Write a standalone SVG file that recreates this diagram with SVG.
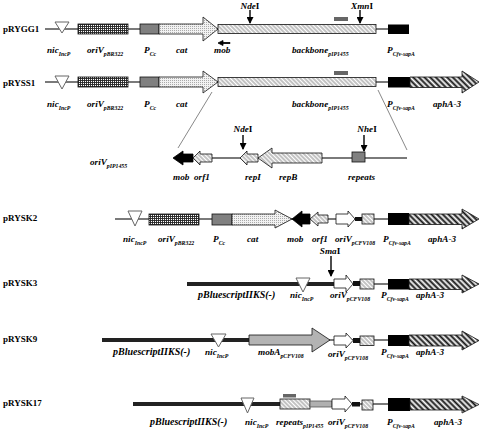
<svg xmlns="http://www.w3.org/2000/svg" width="480" height="431" viewBox="0 0 480 431">
<defs>
<style>
.t{font-family:"Liberation Serif","Times New Roman",serif;font-weight:bold;font-style:italic;font-size:9.2px;fill:#000}
.b{font-size:10px}
.n{font-family:"Liberation Serif","Times New Roman",serif;font-weight:bold;font-size:9px;fill:#000}
.s{font-size:5.8px}
.r{font-style:normal}
.ln{stroke:#7a7a7a;stroke-width:2;fill:none}
.bk{stroke:#222;stroke-width:4;fill:none}
.ol{stroke:#111;stroke-width:0.8}
.tri{fill:#fff;stroke:#666;stroke-width:1}
.site{stroke:#000;stroke-width:1.4;marker-end:url(#ah)}
.exp{stroke:#555;stroke-width:0.7}
.gbar{fill:#666}
</style>
<marker id="ah" markerUnits="userSpaceOnUse" markerWidth="7" markerHeight="7" refX="6" refY="3.5" orient="auto"><path d="M0,0 L7,3.5 L0,7 z" fill="#000"/></marker>
<pattern id="grid" width="2" height="2" patternUnits="userSpaceOnUse"><rect width="2" height="2" fill="#fff"/><path d="M0 0.5H2M0.5 0V2" stroke="#222" stroke-width="0.9"/></pattern>
<pattern id="dots" width="2" height="2" patternUnits="userSpaceOnUse"><rect width="2" height="2" fill="#f2f2f2"/><rect width="1" height="1" fill="#aaa"/></pattern>
<pattern id="hatch" width="3" height="3" patternUnits="userSpaceOnUse" patternTransform="rotate(-45)"><rect width="3" height="3" fill="#fff"/><path d="M1 0V3" stroke="#777" stroke-width="0.9"/></pattern>
<pattern id="heavy" width="4" height="4" patternUnits="userSpaceOnUse" patternTransform="rotate(-45)"><rect width="4" height="4" fill="#fff"/><path d="M1.5 0V4" stroke="#111" stroke-width="2"/></pattern>
</defs>
<rect width="480" height="431" fill="#fff"/>

<g id="connectors">
<line class="ln" x1="45" y1="29" x2="388" y2="29"/>
<line class="ln" x1="45" y1="82" x2="388" y2="82"/>
<line class="exp" x1="212" y1="92" x2="178" y2="148"/>
<line class="exp" x1="378" y1="90" x2="407" y2="150"/>
<line class="ln" x1="212" y1="158" x2="407" y2="158"/>
<line class="ln" x1="115" y1="219" x2="388" y2="219"/>
<line class="bk" x1="187" y1="284" x2="335" y2="284"/>
<line class="ln" x1="353" y1="284" x2="388" y2="284"/>
<line class="bk" x1="102" y1="340" x2="249" y2="340"/>
<line class="ln" x1="328" y1="340" x2="388" y2="340"/>
<line class="bk" x1="133" y1="404" x2="280" y2="404"/>
<line class="ln" x1="352" y1="404" x2="388" y2="404"/>
<line class="site" x1="250" y1="10" x2="250" y2="23"/>
<line class="site" x1="360" y1="10" x2="360" y2="23"/>
<line class="site" x1="243" y1="135" x2="243" y2="149"/>
<line class="site" x1="364" y1="135" x2="364" y2="151"/>
<line class="site" x1="331" y1="256" x2="331" y2="276"/>
</g>

<g id="site-labels">
<text class="t" x="250" y="8.5" text-anchor="middle">Nde<tspan class="r">I</tspan></text>
<text class="t" x="362" y="8.5" text-anchor="middle">Xmn<tspan class="r">I</tspan></text>
<text class="t" x="243" y="132" text-anchor="middle">Nde<tspan class="r">I</tspan></text>
<text class="t" x="367" y="132" text-anchor="middle">Nhe<tspan class="r">I</tspan></text>
<text class="t" x="330" y="254" text-anchor="middle">Sma<tspan class="r">I</tspan></text>
</g>

<g id="pRYGG1">
<text class="n" x="3" y="32">pRYGG1</text>
<polygon class="tri" points="55,22 69,22 62,33"/>
<rect class="ol" x="78" y="24" width="50" height="10" fill="url(#grid)"/>
<rect class="ol" x="140" y="24" width="19" height="10" fill="#808080"/>
<polygon class="ol" points="159,24 203,24 203,17 218,29 203,41 203,34 159,34" fill="url(#dots)"/>
<rect class="ol" x="218" y="24.5" width="158" height="9" fill="url(#hatch)"/>
<rect class="gbar" x="334" y="17" width="14" height="4"/>
<polygon points="230,42.5 223,42.5 223,40.5 218,43 223,45.5 223,43.5 230,43.5" fill="#000" stroke="#000" stroke-width="0.8"/>
<rect x="388" y="24.5" width="21" height="9.5" fill="#000"/>
<text class="t" x="47" y="53">nic<tspan class="s" dy="3">IncP</tspan></text>
<text class="t" x="87" y="53">oriV<tspan class="s" dy="3">pBR322</tspan></text>
<text class="t" x="144" y="53">P<tspan class="s" dy="3">Cc</tspan></text>
<text class="t" x="176" y="53">cat</text>
<text class="t" x="214" y="53">mob</text>
<text class="t" x="292" y="53">backbone<tspan class="s" dy="3">pIP1455</tspan></text>
<text class="t" x="387" y="53">P<tspan class="s" dy="3">Cfv-sapA</tspan></text>
</g>

<g id="pRYSS1">
<text class="n" x="3" y="86">pRYSS1</text>
<polygon class="tri" points="55,76 69,76 62,89"/>
<rect class="ol" x="78" y="77" width="50" height="10" fill="url(#grid)"/>
<rect class="ol" x="140" y="77" width="19" height="10" fill="#808080"/>
<polygon class="ol" points="159,77 203,77 203,71 218,82 203,93 203,87 159,87" fill="url(#dots)"/>
<rect class="ol" x="218" y="77.5" width="158" height="9" fill="url(#hatch)"/>
<rect class="gbar" x="334" y="71" width="14" height="4"/>
<rect x="388" y="77" width="22" height="10.5" fill="#000"/>
<polygon class="ol" points="410,77 462,77 462,71 479,82 462,93 462,87.5 410,87.5" fill="url(#heavy)"/>
<text class="t" x="47" y="107">nic<tspan class="s" dy="3">IncP</tspan></text>
<text class="t" x="87" y="107">oriV<tspan class="s" dy="3">pBR322</tspan></text>
<text class="t" x="144" y="107">P<tspan class="s" dy="3">Cc</tspan></text>
<text class="t" x="176" y="107">cat</text>
<text class="t" x="292" y="107">backbone<tspan class="s" dy="3">pIP1455</tspan></text>
<text class="t" x="387" y="107">P<tspan class="s" dy="3">Cfv-sapA</tspan></text>
<text class="t" x="433" y="107">aphA-3</text>
</g>

<g id="oriV-pIP1455">
<text class="t" x="90" y="165">oriV<tspan class="s" dy="3">pIP1455</tspan></text>
<polygon points="173,158 183,151 183,154 193,154 193,162 183,162 183,165" fill="#000" stroke="#000" stroke-width="0.8"/>
<polygon class="ol" points="193,158 200,151 200,154 212,154 212,162 200,162 200,165" fill="url(#hatch)"/>
<polygon class="ol" points="240,158 247,151 247,154 258,154 258,162 247,162 247,165" fill="url(#hatch)"/>
<polygon class="ol" points="258,158 272,148 272,153 322,153 322,163 272,163 272,168" fill="url(#hatch)"/>
<rect class="ol" x="352" y="152" width="13" height="10" fill="#808080"/>
<text class="t" x="173" y="180">mob</text>
<text class="t" x="194" y="180">orf1</text>
<text class="t" x="245" y="180">repI</text>
<text class="t" x="279" y="180">repB</text>
<text class="t" x="348" y="180">repeats</text>
</g>

<g id="pRYSK2">
<text class="n" x="3" y="221">pRYSK2</text>
<polygon class="tri" points="128,211 142,211 135,226"/>
<rect class="ol" x="149" y="214" width="50" height="11" fill="url(#grid)"/>
<rect class="ol" x="212" y="214" width="20" height="11" fill="#808080"/>
<polygon class="ol" points="232,214 275,214 275,210 292,219 275,228 275,225 232,225" fill="url(#dots)"/>
<polygon points="292,219 302,211 302,214 310,214 310,224 302,224 302,227" fill="#000" stroke="#000" stroke-width="0.8"/>
<polygon class="ol" points="310,219 318,212 318,215 328,215 328,223 318,223 318,226" fill="url(#hatch)"/>
<polygon class="ol" points="336,214 348,214 348,211 355,219 348,227 348,224 336,224" fill="#fff"/>
<rect x="355" y="217" width="7" height="4" fill="#111"/>
<rect class="ol" x="362" y="214" width="12" height="10" fill="url(#hatch)"/>
<rect x="388" y="213" width="21" height="12" fill="#000"/>
<polygon class="ol" points="409,214 462,214 462,209 479,219 462,229 462,224.5 409,224.5" fill="url(#heavy)"/>
<text class="t" x="123" y="242">nic<tspan class="s" dy="3">IncP</tspan></text>
<text class="t" x="158" y="242">oriV<tspan class="s" dy="3">pBR322</tspan></text>
<text class="t" x="213" y="242">P<tspan class="s" dy="3">Cc</tspan></text>
<text class="t" x="247" y="242">cat</text>
<text class="t" x="287" y="242">mob</text>
<text class="t" x="312" y="242">orf1</text>
<text class="t" x="335" y="242">oriV<tspan class="s" dy="3">pCFV108</tspan></text>
<text class="t" x="383" y="242">P<tspan class="s" dy="3">Cfv-sapA</tspan></text>
<text class="t" x="428" y="242">aphA-3</text>
</g>

<g id="pRYSK3">
<text class="n" x="3" y="286">pRYSK3</text>
<polygon class="tri" points="296,278 310,278 303,292"/>
<polygon class="ol" points="334,279 346,279 346,275 353,284 346,292 346,288 334,288" fill="#fff"/>
<rect x="353" y="281" width="7" height="5" fill="#111"/>
<rect class="ol" x="360" y="279" width="14" height="10" fill="url(#hatch)"/>
<rect x="388" y="279" width="21" height="10.5" fill="#000"/>
<polygon class="ol" points="409,279 462,279 462,275 479,284 462,293 462,289.5 409,289.5" fill="url(#heavy)"/>
<text class="t b" x="198" y="298">pBluescriptIIKS(-)</text>
<text class="t" x="290" y="298">nic<tspan class="s" dy="3">IncP</tspan></text>
<text class="t" x="330" y="298">oriV<tspan class="s" dy="3">pCFV108</tspan></text>
<text class="t" x="381" y="298">P<tspan class="s" dy="3">Cfv-sapA</tspan></text>
<text class="t" x="416" y="298">aphA-3</text>
</g>

<g id="pRYSK9">
<text class="n" x="3" y="342">pRYSK9</text>
<polygon class="tri" points="211,334 226,334 218.5,347"/>
<polygon class="ol" points="249,335 312,335 312,328 330,340 312,352 312,345 249,345" fill="#b3b3b3"/>
<polygon class="ol" points="334,336 346,336 346,333 353,340.5 346,348 346,345 334,345" fill="#fff"/>
<rect x="353" y="338" width="7" height="5" fill="#111"/>
<rect class="ol" x="360" y="336" width="14" height="9.5" fill="url(#hatch)"/>
<rect x="388" y="335" width="21" height="11" fill="#000"/>
<polygon class="ol" points="409,335 462,335 462,331 479,340.5 462,350 462,346 409,346" fill="url(#heavy)"/>
<text class="t b" x="113" y="355">pBluescriptIIKS(-)</text>
<text class="t" x="205" y="355">nic<tspan class="s" dy="3">IncP</tspan></text>
<text class="t" x="258" y="355">mobA<tspan class="s" dy="3">pCFV108</tspan></text>
<text class="t" x="328" y="357">oriV<tspan class="s" dy="3">pCFV108</tspan></text>
<text class="t" x="381" y="355">P<tspan class="s" dy="3">Cfv-sapA</tspan></text>
<text class="t" x="416" y="355">aphA-3</text>
</g>

<g id="pRYSK17">
<text class="n" x="3" y="406">pRYSK17</text>
<polygon class="tri" points="241,398 254,398 247.5,413"/>
<rect class="ol" x="280" y="399" width="30" height="10" fill="url(#hatch)"/>
<rect class="gbar" x="283" y="394" width="13" height="3.5"/>
<rect x="310" y="401" width="22" height="6" fill="#b0b0b0" stroke="#555" stroke-width="0.8"/>
<polygon class="ol" points="332,399 345,399 345,396 352,404 345,412 345,409 332,409" fill="#fff"/>
<rect x="352" y="402" width="8" height="4.5" fill="#111"/>
<rect class="ol" x="362" y="400" width="11" height="10" fill="url(#hatch)"/>
<rect x="388" y="398" width="22" height="13" fill="#000"/>
<polygon class="ol" points="410,399 462,399 462,396 479,404.5 462,413 462,410 410,410" fill="url(#heavy)"/>
<text class="t b" x="150" y="425">pBluescriptIIKS(-)</text>
<text class="t" x="245" y="425">nic<tspan class="s" dy="3">IncP</tspan></text>
<text class="t" x="276" y="425">repeats<tspan class="s" dy="3">pIP1455</tspan></text>
<text class="t" x="328" y="425">oriV<tspan class="s" dy="3">pCFV108</tspan></text>
<text class="t" x="387" y="425">P<tspan class="s" dy="3">Cfv-sapA</tspan></text>
<text class="t" x="434" y="425">aphA-3</text>
</g>
</svg>
